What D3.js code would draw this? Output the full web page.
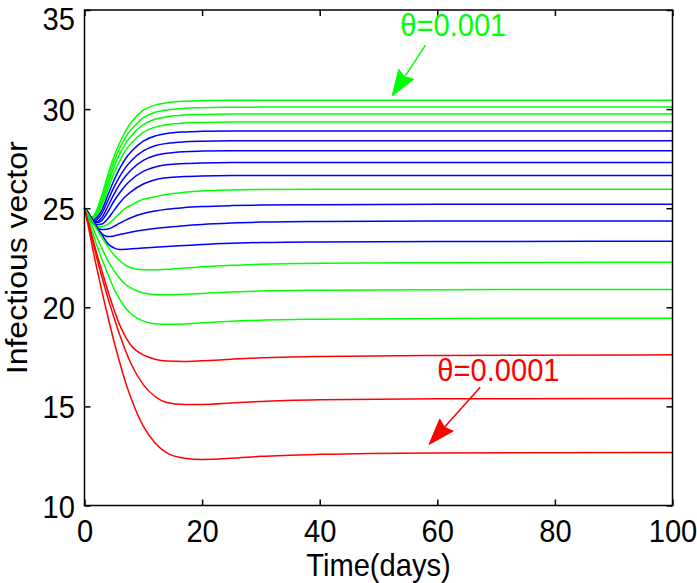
<!DOCTYPE html>
<html>
<head>
<meta charset="utf-8">
<script src="https://cdn.jsdelivr.net/npm/d3@7"></script>
<style>
  html, body { margin: 0; padding: 0; background: #fff; }
  svg { display: block; }
  text { font-family: "Liberation Sans", Arial, Helvetica, sans-serif; }
</style>
</head>
<body>
<svg id="chart" width="697" height="583"></svg>
<script>
// ---------- data ----------
const times = [0, 0.5, 1, 1.5, 2, 3, 4, 5, 6, 7, 8, 10, 12, 14, 17, 20, 25, 30, 40, 60, 100];

const c01 = [25, 24.70, 24.56, 24.60, 24.85, 25.70, 26.70, 27.60, 28.30, 28.90, 29.35, 29.95, 30.20, 30.32, 30.40, 30.43, 30.45, 30.45, 30.45, 30.45, 30.45];
const c02 = [25, 24.70, 24.54, 24.56, 24.78, 25.50, 26.45, 27.34, 28.04, 28.59, 28.98, 29.57, 29.84, 29.96, 30.04, 30.07, 30.09, 30.10, 30.10, 30.10, 30.10];
const c03 = [25, 24.69, 24.52, 24.52, 24.70, 25.32, 26.22, 27.06, 27.75, 28.27, 28.67, 29.22, 29.49, 29.61, 29.70, 29.73, 29.75, 29.75, 29.75, 29.75, 29.75];
const c04 = [25, 24.68, 24.50, 24.46, 24.60, 25.18, 25.96, 26.75, 27.39, 27.93, 28.30, 28.83, 29.09, 29.21, 29.30, 29.33, 29.35, 29.35, 29.35, 29.35, 29.35];
const c05 = [25, 24.67, 24.48, 24.41, 24.50, 24.94, 25.68, 26.40, 27.01, 27.51, 27.87, 28.38, 28.64, 28.77, 28.85, 28.88, 28.90, 28.90, 28.90, 28.90, 28.90];
const c06 = [25, 24.66, 24.46, 24.37, 24.40, 24.76, 25.40, 26.05, 26.60, 27.06, 27.41, 27.89, 28.15, 28.27, 28.35, 28.38, 28.40, 28.40, 28.40, 28.40, 28.40];
const c07 = [25, 24.65, 24.44, 24.33, 24.32, 24.55, 25.11, 25.70, 26.21, 26.62, 26.95, 27.41, 27.66, 27.77, 27.85, 27.88, 27.90, 27.90, 27.90, 27.90, 27.90];
const c08 = [25, 24.64, 24.42, 24.30, 24.26, 24.40, 24.83, 25.35, 25.78, 26.16, 26.45, 26.86, 27.08, 27.19, 27.25, 27.28, 27.30, 27.30, 27.30, 27.30, 27.30];
const c09 = [25, 24.62, 24.38, 24.23, 24.16, 24.20, 24.48, 24.88, 25.27, 25.60, 25.85, 26.22, 26.44, 26.54, 26.60, 26.63, 26.65, 26.65, 26.65, 26.65, 26.65];
const c10 = [25, 24.70, 24.40, 24.20, 24.08, 24.07, 24.20, 24.45, 24.75, 25.00, 25.17, 25.45, 25.58, 25.70, 25.80, 25.87, 25.92, 25.94, 25.95, 25.95, 25.95];
const c11 = [25, 24.80, 24.50, 24.25, 24.05, 23.92, 23.95, 24.08, 24.25, 24.40, 24.53, 24.73, 24.86, 24.95, 25.03, 25.08, 25.13, 25.16, 25.18, 25.20, 25.20];
const c12 = [25, 24.85, 24.60, 24.30, 24.05, 23.70, 23.57, 23.60, 23.67, 23.74, 23.80, 23.90, 23.98, 24.04, 24.12, 24.18, 24.25, 24.30, 24.33, 24.35, 24.35];
const c13 = [25, 24.85, 24.60, 24.35, 24.10, 23.65, 23.20, 23.00, 22.92, 22.93, 22.95, 22.99, 23.03, 23.07, 23.12, 23.17, 23.23, 23.27, 23.30, 23.32, 23.33];
const c14 = [25, 24.75, 24.50, 24.25, 24.00, 23.50, 23.05, 22.65, 22.35, 22.12, 21.98, 21.89, 21.89, 21.92, 21.98, 22.04, 22.12, 22.17, 22.22, 22.25, 22.27];
const c15 = [25, 24.65, 24.30, 23.95, 23.60, 22.95, 22.35, 21.85, 21.45, 21.15, 20.95, 20.72, 20.64, 20.63, 20.66, 20.70, 20.77, 20.82, 20.86, 20.89, 20.90];
const c16 = [25, 24.55, 24.10, 23.65, 23.20, 22.40, 21.65, 20.95, 20.40, 19.95, 19.65, 19.30, 19.17, 19.14, 19.16, 19.22, 19.30, 19.35, 19.40, 19.44, 19.45];
const c17 = [25, 24.45, 23.90, 23.35, 22.80, 21.80, 20.80, 19.90, 19.10, 18.50, 18.05, 17.60, 17.38, 17.29, 17.27, 17.30, 17.38, 17.45, 17.52, 17.57, 17.60];
const c18 = [25, 24.40, 23.80, 23.20, 22.60, 21.50, 20.45, 19.50, 18.60, 17.80, 17.10, 16.10, 15.50, 15.20, 15.10, 15.10, 15.17, 15.25, 15.33, 15.38, 15.40];
const c19 = [25, 24.30, 23.55, 22.80, 22.10, 20.75, 19.50, 18.30, 17.20, 16.20, 15.35, 14.00, 13.15, 12.65, 12.38, 12.32, 12.38, 12.48, 12.58, 12.65, 12.68];

const seriesValues = [c01, c02, c03, c04, c05, c06, c07, c08, c09, c10,
                      c11, c12, c13, c14, c15, c16, c17, c18, c19];
const seriesGroup = ["g", "g", "g", "g", "b", "b", "b", "b", "b", "g",
                     "b", "b", "b", "g", "g", "g", "r", "r", "r"];

const xTicks = [0, 20, 40, 60, 80, 100];
const yTicks = [10, 15, 20, 25, 30, 35];
const xTitle = "Time(days)";
const yTitle = "Infectious vector";

// annotations (in data units): label anchor, arrow start, arrow tip
const annoText  = ["θ=0.001", "θ=0.0001"];
const annoGroup = ["g", "r"];
const annoLabelT = [53.7, 60.0];
const annoLabelV = [33.70, 16.28];
const annoFromT  = [58.0, 67.3];
const annoFromV  = [33.23, 15.96];
const annoTipT   = [52.3, 58.6];
const annoTipV   = [30.66, 13.08];

// ---------- styles ----------
const colorOf = { g: "#00ff00", b: "#0000ff", r: "#ff0000" };
const FONT = 32, SX = 0.91;

// ---------- drawing ----------
const svg = d3.select("#chart");
const x = d3.scaleLinear().domain([0, 100]).range([84.5, 672.5]);
const y = d3.scaleLinear().domain([10, 35]).range([505.5, 10]);

const line = d3.line()
  .x((d, i) => x(times[i]))
  .y(d => y(d))
  .curve(d3.curveMonotoneX);

const curves = svg.append("g");
seriesValues.forEach((vals, k) => {
  curves.append("path")
    .attr("d", line(vals))
    .attr("fill", "none")
    .attr("stroke", colorOf[seriesGroup[k]])
    .attr("stroke-width", 1.5);
});

// axes with inward ticks on all four sides
const tickLen = 6;
const gb = svg.append("g").attr("transform", `translate(0,${y(10)})`)
  .call(d3.axisBottom(x).tickValues(xTicks).tickSizeInner(-tickLen).tickSizeOuter(0).tickFormat(d3.format("d")));
const gt = svg.append("g").attr("transform", `translate(0,${y(35)})`)
  .call(d3.axisTop(x).tickValues(xTicks).tickSizeInner(-tickLen).tickSizeOuter(0).tickFormat(""));
const gl = svg.append("g").attr("transform", `translate(${x(0)},0)`)
  .call(d3.axisLeft(y).tickValues(yTicks).tickSizeInner(-tickLen).tickSizeOuter(0).tickFormat(d3.format("d")));
const gr = svg.append("g").attr("transform", `translate(${x(100)},0)`)
  .call(d3.axisRight(y).tickValues(yTicks).tickSizeInner(-tickLen).tickSizeOuter(0).tickFormat(""));

[gb, gt, gl, gr].forEach(g => {
  g.select(".domain").remove();
  g.selectAll(".tick line").attr("stroke", "#000").attr("stroke-width", 1.5);
  g.selectAll("text").attr("font-family", null).attr("font-size", null);
});

gb.selectAll(".tick text")
  .attr("y", 0).attr("dy", null)
  .attr("transform", `translate(0,${542 - y(10)}) scale(${SX},1)`)
  .attr("font-size", FONT).attr("fill", "#000")
  .attr("text-anchor", "middle");

gl.selectAll(".tick text")
  .attr("x", 0).attr("dy", null).attr("y", 0)
  .attr("text-anchor", "end")
  .attr("font-size", FONT).attr("fill", "#000")
  .attr("transform", d => {
    const py = y(d);
    const half = 11.5;
    const shift = (py - half < 6) ? (6 - (py - half)) : 0;
    return `translate(${75 - x(0)},${half + shift}) scale(${SX},1)`;
  });

// box
svg.append("rect")
  .attr("x", x(0)).attr("y", y(35))
  .attr("width", x(100) - x(0)).attr("height", y(10) - y(35))
  .attr("fill", "none").attr("stroke", "#000").attr("stroke-width", 1.5);

// axis titles
svg.append("text")
  .attr("transform", `translate(${(x(0) + x(100)) / 2},576) scale(${SX},1)`)
  .attr("text-anchor", "middle").attr("font-size", FONT).attr("fill", "#000")
  .text(xTitle);
svg.append("text")
  .attr("transform", `translate(27,${(y(10) + y(35)) / 2}) scale(${SX},1) rotate(-90)`)
  .attr("text-anchor", "middle").attr("font-size", FONT).attr("fill", "#000")
  .text(yTitle);

// annotations
annoText.forEach((txt, k) => {
  const col = colorOf[annoGroup[k]];
  svg.append("text")
    .attr("transform", `translate(${x(annoLabelT[k])},${y(annoLabelV[k])}) scale(${SX},1)`)
    .attr("font-size", FONT).attr("fill", col)
    .text(txt);
  const x0 = x(annoFromT[k]), y0 = y(annoFromV[k]);
  const x1 = x(annoTipT[k]), y1 = y(annoTipV[k]);
  const dx = x1 - x0, dy = y1 - y0, len = Math.hypot(dx, dy);
  const ux = dx / len, uy = dy / len;
  const L = 26, W = 9;
  const bx = x1 - L * ux, by = y1 - L * uy;
  svg.append("line")
    .attr("x1", x0).attr("y1", y0).attr("x2", bx + 4 * ux).attr("y2", by + 4 * uy)
    .attr("stroke", col).attr("stroke-width", 1.5);
  svg.append("path")
    .attr("d", `M${x1},${y1} L${bx - W * uy},${by + W * ux} L${bx + 3 * ux},${by + 3 * uy} L${bx + W * uy},${by - W * ux} Z`)
    .attr("fill", col).attr("stroke", col).attr("stroke-width", 1);
});
</script>
</body>
</html>
